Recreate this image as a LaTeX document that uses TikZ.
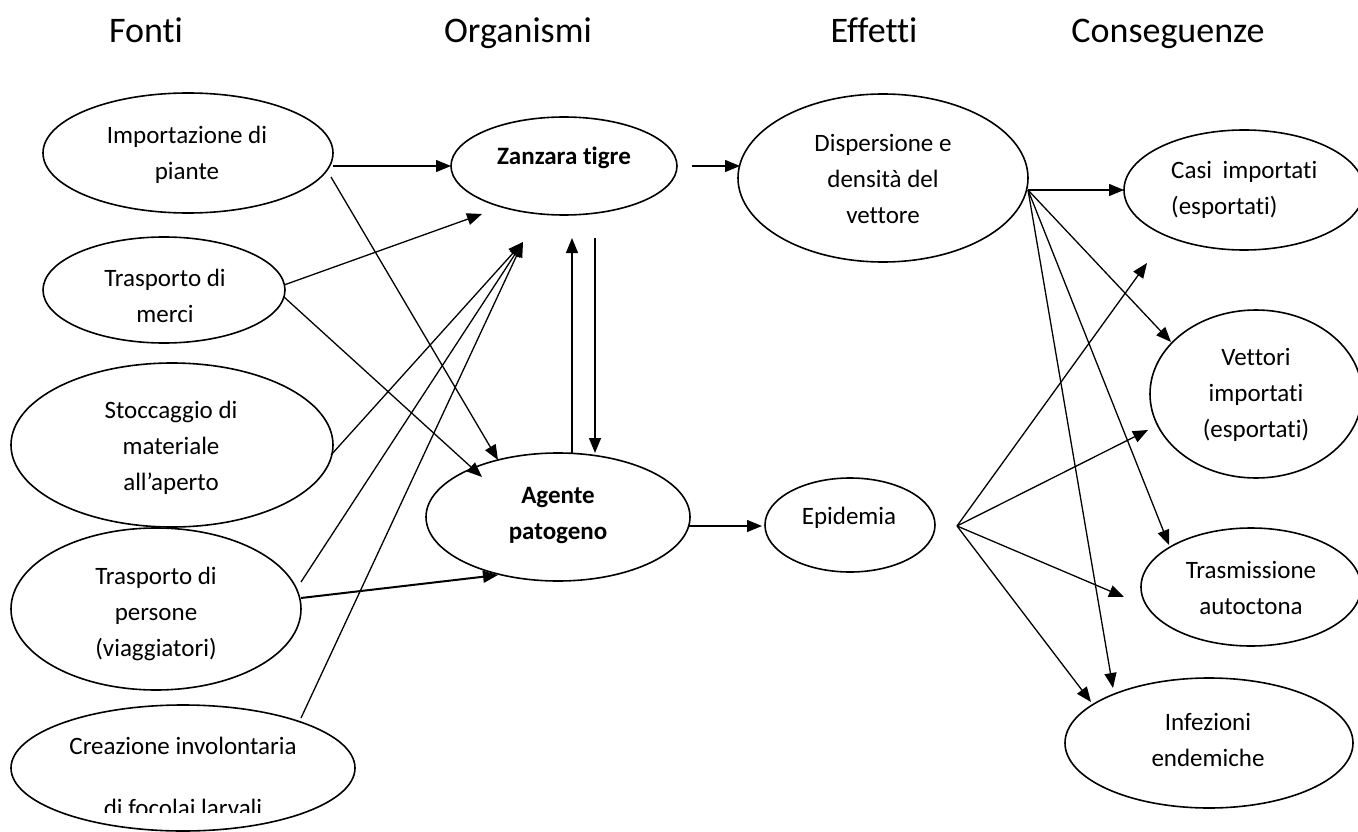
\documentclass[tikz,border=0pt]{standalone}
\usepackage{fontspec}
\setmainfont{Carlito}[Ligatures={NoCommon}]
\usetikzlibrary{arrows.meta,shapes.geometric}
\begin{document}
\begin{tikzpicture}[x=1pt,y=-1pt,
  ell/.style={draw,ellipse,line width=1.6pt,inner sep=0pt,outer sep=0pt},
  txt/.style={align=center,inner sep=0pt,font=\fontsize{25}{36}\selectfont},
  btxt/.style={txt,font=\fontsize{25}{36}\selectfont\bfseries},
  hdr/.style={anchor=base,inner sep=0pt,font=\fontsize{36}{43}\selectfont},
  arr/.style={line width=1.3pt,-{Triangle[length=15pt,width=12pt]}},
]
\useasboundingbox (0,0) rectangle (1358,832);
\clip (0,0) rectangle (1358,832);

% headers
\node[hdr] (hfonti) at (146,43) {Fonti};
\node[hdr] (horg) at (518,43) {Organismi};
\node[hdr] (heff) at (874,43) {Effetti};
\node[hdr] (hcons) at (1168,43) {Conseguenze};

% ellipses
\node[ell,minimum width=290pt,minimum height=120pt] (imp) at (188,153) {};
\node[ell,minimum width=242pt,minimum height=106pt] (merci) at (164,290) {};
\node[ell,minimum width=322pt,minimum height=164pt] (stoc) at (172,445) {};
\node[ell,minimum width=290pt,minimum height=162pt] (pers) at (156,609) {};
\node[ell,minimum width=344pt,minimum height=126pt] (crea) at (183,768) {};
\node[ell,minimum width=226pt,minimum height=98pt] (zan) at (564,166) {};
\node[ell,minimum width=264pt,minimum height=128pt] (age) at (558,517) {};
\node[ell,minimum width=290pt,minimum height=168pt] (disp) at (883,178) {};
\node[ell,minimum width=170pt,minimum height=94pt] (epi) at (850,525) {};
\node[ell,minimum width=240pt,minimum height=120pt] (casi) at (1244,190) {};
\node[ell,minimum width=212pt,minimum height=168pt] (vett) at (1256,394) {};
\node[ell,minimum width=220pt,minimum height=118pt] (tras) at (1251,587) {};
\node[ell,minimum width=288pt,minimum height=130pt] (inf) at (1209,743) {};

% texts
\node[txt] (impt) at (187,155) {Importazione di\\piante};
\node[txt] (mercit) at (165,296) {Trasporto di\\merci};
\node[txt] (stoct) at (171,448) {Stoccaggio di\\materiale\\all’aperto};
\node[txt] (perst) at (156,614) {Trasporto di\\persone\\(viaggiatori)};
\node[txt,anchor=base] (creat) at (183,754) {Creazione involontaria};
\begin{scope}
\clip (0,0) rectangle (1358,812);
\node[txt,anchor=base] (creat2) at (183,816) {di focolai larvali};
\end{scope}
\node[btxt] (zant) at (564,158) {Zanzara tigre};
\node[btxt] (aget) at (558,516) {Agente\\patogeno};
\node[txt] (dispt) at (883,179) {Dispersione e\\densità del\\vettore};
\node[txt] (epit) at (849,518) {Epidemia};
\node[txt,anchor=west,align=left] (casit) at (1171,190) {Casi\hspace{5pt} importati\\(esportati)};
\node[txt] (vettt) at (1256,395) {Vettori\\importati\\(esportati)};
\node[txt] (trast) at (1251,588) {Trasmissione\\autoctona};
\node[txt] (inft) at (1208,740) {Infezioni\\endemiche};

% connector end points
\coordinate (imp-o1) at (333,166);
\coordinate (imp-o2) at (331,177);
\coordinate (age-i1) at (498,460);
\coordinate (merci-o1) at (284,285);
\coordinate (merci-o2) at (284,297);
\coordinate (zan-i1) at (482,214);
\coordinate (age-i2) at (482,477);
\coordinate (stoc-o) at (331,455);
\coordinate (zan-i2) at (523,242);
\coordinate (pers-o1) at (301,582);
\coordinate (pers-o2) at (301,598);
\coordinate (crea-o) at (301,718);
\coordinate (age-i3) at (498,575);
\coordinate (age-up) at (572,453);
\coordinate (zan-up) at (572,238);
\coordinate (zan-dn) at (595,238);
\coordinate (age-dn) at (595,453);
\coordinate (zan-o) at (692,166);
\coordinate (disp-i) at (740,166);
\coordinate (age-o) at (689,526);
\coordinate (epi-i) at (762,526);
\coordinate (disp-o) at (1028,190);
\coordinate (casi-i1) at (1124,190);
\coordinate (vett-i1) at (1171,342);
\coordinate (tras-i1) at (1169,545);
\coordinate (inf-i1) at (1113,688);
\coordinate (epi-o) at (957,526);
\coordinate (casi-i2) at (1147,263);
\coordinate (vett-i2) at (1148,430);
\coordinate (tras-i2) at (1124,597);
\coordinate (inf-i2) at (1091,702);

% connectors
\draw[arr] (imp-o1) -- (zan.west);
\draw[arr] (imp-o2) -- (age-i1);
\draw[arr] (merci-o1) -- (zan-i1);
\draw[arr] (merci-o2) -- (age-i2);
\draw[arr] (stoc-o) -- (zan-i2);
\draw[arr] (pers-o1) -- (zan-i2);
\draw[arr] (crea-o) -- (zan-i2);
\draw[arr,line width=2pt] (pers-o2) -- (age-i3);
\draw[arr] (age-up) -- (zan-up);
\draw[arr] (zan-dn) -- (age-dn);
\draw[arr] (zan-o) -- (disp-i);
\draw[arr] (age-o) -- (epi-i);
\draw[arr] (disp-o) -- (casi-i1);
\draw[arr] (disp-o) -- (vett-i1);
\draw[arr] (disp-o) -- (tras-i1);
\draw[arr] (disp-o) -- (inf-i1);
\draw[arr] (epi-o) -- (casi-i2);
\draw[arr] (epi-o) -- (vett-i2);
\draw[arr] (epi-o) -- (tras-i2);
\draw[arr] (epi-o) -- (inf-i2);
\end{tikzpicture}
\end{document}
